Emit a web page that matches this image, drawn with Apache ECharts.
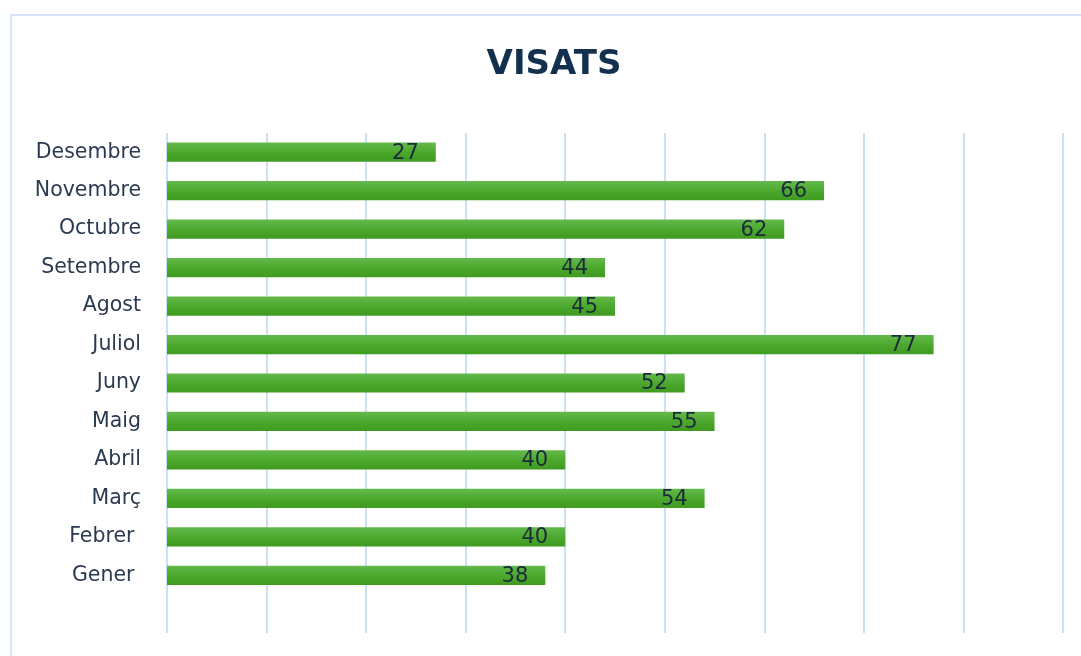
<!DOCTYPE html>
<html>
<head>
<meta charset="utf-8">
<script src="https://cdn.jsdelivr.net/npm/echarts@6/dist/echarts.min.js"></script>
<style>
html,body{margin:0;padding:0;background:#fff;overflow:hidden;}
#chart{width:1081px;height:656px;}
</style>
</head>
<body>
<div id="chart"></div>
<script>
const months = ['Gener ', 'Febrer ', 'Març', 'Abril', 'Maig', 'Juny', 'Juliol', 'Agost', 'Setembre', 'Octubre', 'Novembre', 'Desembre'];
const visits = [38, 40, 54, 40, 55, 52, 77, 45, 44, 62, 66, 27];
const xTicks = [0, 10, 20, 30, 40, 50, 60, 70, 80, 90];

const chart = echarts.init(document.getElementById('chart'));
chart.setOption({
  animation: false,
  title: {
    text: 'VISATS',
    left: 549,
    textAlign: 'center',
    top: 43,
    textStyle: { fontFamily: 'DejaVu Sans', fontWeight: 'bold', fontSize: 34, color: '#13304f' }
  },
  graphic: [{
    type: 'rect',
    shape: { x: 11, y: 15, width: 1200, height: 800 },
    style: { fill: 'none', stroke: '#d3e2f4', lineWidth: 2 },
    silent: true
  }],
  grid: { left: 167, right: 18, top: 133, bottom: 23, containLabel: false },
  xAxis: {
    type: 'value',
    min: xTicks[0],
    max: xTicks[xTicks.length - 1],
    interval: 10,
    axisLabel: { show: false },
    axisLine: { show: false },
    axisTick: { show: false },
    splitLine: { show: true, lineStyle: { color: '#cddff3', width: 2 } }
  },
  yAxis: {
    type: 'category',
    data: [''].concat(months),
    axisLine: { show: false },
    axisTick: { show: false },
    axisLabel: { margin: 26, padding: [4, 0, 0, 0], fontFamily: 'DejaVu Sans', fontSize: 20.5, color: '#2a3a50' }
  },
  series: [{
    type: 'bar',
    data: [null].concat(visits),
    barCategoryGap: '50%',
    itemStyle: {
      color: new echarts.graphic.LinearGradient(0, 0, 0, 1, [
        { offset: 0, color: '#64b94c' },
        { offset: 0.5, color: '#4ca92e' },
        { offset: 1, color: '#3e9b20' }
      ])
    },
    label: {
      show: true,
      position: 'insideRight',
      distance: 17,
      offset: [0, 1],
      fontFamily: 'DejaVu Sans',
      fontSize: 21,
      color: '#1c2b3c'
    }
  }]
});
</script>
</body>
</html>
